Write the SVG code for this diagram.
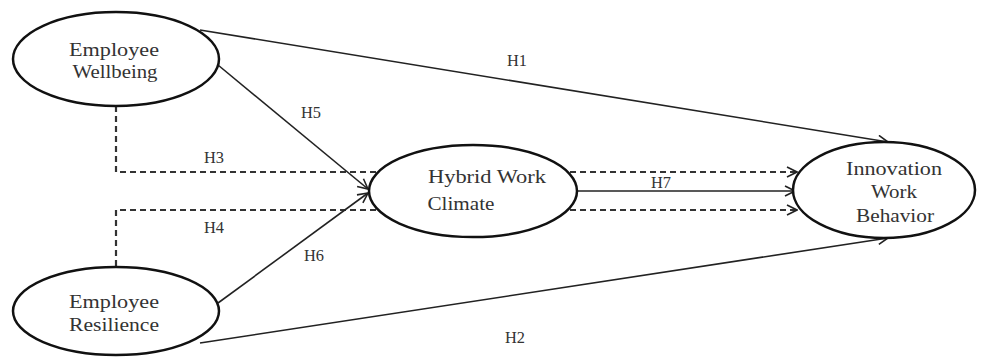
<svg xmlns="http://www.w3.org/2000/svg" width="985" height="360" viewBox="0 0 985 360">
<style>
.node ellipse{fill:#fff;stroke:#111;stroke-width:2.5}
.node text{font-family:"Liberation Serif","Times New Roman","DejaVu Serif",serif;font-size:18px;fill:#333;text-anchor:middle}
.lbl{font-family:"Liberation Serif","Times New Roman","DejaVu Serif",serif;font-size:16px;fill:#333;text-anchor:middle}
.solid{fill:none;stroke:#222;stroke-width:1.6}
.dash{fill:none;stroke:#333;stroke-width:2.2;stroke-dasharray:6 4}
</style>
<defs>
<marker id="arr" viewBox="0 0 12 12" refX="11" refY="6" markerWidth="12" markerHeight="12" markerUnits="userSpaceOnUse" orient="auto">
<path d="M1,1 L11,6 L1,11" fill="none" stroke="#222" stroke-width="1.6"/>
</marker>
</defs>
<rect width="985" height="360" fill="#fff"/>
<g id="connectors">
<path class="dash" d="M116,106 V172 H797" marker-end="url(#arr)"/>
<path class="dash" d="M116,266 V210 H797" marker-end="url(#arr)"/>
<path class="solid" d="M200,30 L888,142" marker-end="url(#arr)"/>
<path class="solid" d="M200,343 L888,238" marker-end="url(#arr)"/>
<path class="solid" d="M218,65 L368,189" marker-end="url(#arr)"/>
<path class="solid" d="M218,303 L368,193" marker-end="url(#arr)"/>
<path class="solid" d="M577,191 H795" marker-end="url(#arr)"/>
<text class="lbl" x="517" y="66" textLength="20" lengthAdjust="spacingAndGlyphs">H1</text>
<text class="lbl" x="311" y="118" textLength="20" lengthAdjust="spacingAndGlyphs">H5</text>
<text class="lbl" x="214" y="163" textLength="20" lengthAdjust="spacingAndGlyphs">H3</text>
<text class="lbl" x="214" y="233" textLength="20" lengthAdjust="spacingAndGlyphs">H4</text>
<text class="lbl" x="314" y="261" textLength="20" lengthAdjust="spacingAndGlyphs">H6</text>
<text class="lbl" x="661" y="188" textLength="20" lengthAdjust="spacingAndGlyphs">H7</text>
<text class="lbl" x="515" y="343" textLength="20" lengthAdjust="spacingAndGlyphs">H2</text>
</g>
<g id="employee-wellbeing" class="node">
<ellipse cx="116" cy="59" rx="103" ry="47"/>
<text x="114" y="56" textLength="90" lengthAdjust="spacingAndGlyphs">Employee</text>
<text x="115" y="78" textLength="85" lengthAdjust="spacingAndGlyphs">Wellbeing</text>
</g>
<g id="employee-resilience" class="node">
<ellipse cx="116" cy="311" rx="103" ry="44"/>
<text x="114" y="308" textLength="90" lengthAdjust="spacingAndGlyphs">Employee</text>
<text x="114" y="331" textLength="90" lengthAdjust="spacingAndGlyphs">Resilience</text>
</g>
<g id="hybrid-work-climate" class="node">
<ellipse cx="473" cy="191" rx="104" ry="46"/>
<text x="487" y="183" textLength="118" lengthAdjust="spacingAndGlyphs">Hybrid Work</text>
<text x="461" y="210" textLength="67" lengthAdjust="spacingAndGlyphs">Climate</text>
</g>
<g id="innovation-work-behavior" class="node">
<ellipse cx="884" cy="190" rx="91" ry="48"/>
<text x="894" y="175" textLength="96" lengthAdjust="spacingAndGlyphs">Innovation</text>
<text x="894" y="198" textLength="46" lengthAdjust="spacingAndGlyphs">Work</text>
<text x="895" y="222" textLength="78" lengthAdjust="spacingAndGlyphs">Behavior</text>
</g>
</svg>
